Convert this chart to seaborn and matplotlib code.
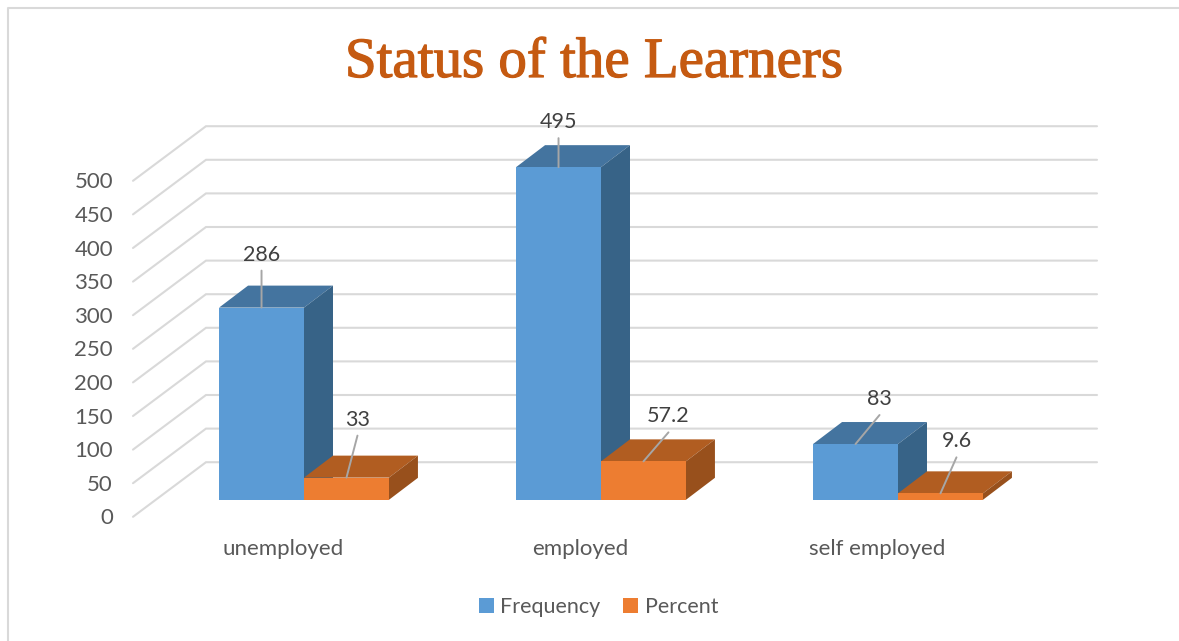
import matplotlib
matplotlib.use('Agg')
import matplotlib.pyplot as plt
import matplotlib.patheffects as pe
from matplotlib.lines import Line2D
from matplotlib.patches import Polygon
from matplotlib.transforms import ScaledTranslation
import pandas as pd
import seaborn as sns

# data
categories = ['unemployed', 'employed', 'self employed']
frequency = [286, 495, 83]
percent = [33, 57.2, 9.6]
y_ticks = list(range(0, 501, 50))

# label offsets from the top of each bar, in pixels (text, leader ends 16 below)
freq_label_pos = [(0, 53), (0, 45), (24, 45)]
percent_label_pos = [(11, 58), (25, 45), (16, 52)]

W, H = 1179, 641
AX_LEFT, AX_BOTTOM_PX = 155.5, 499.8
PX_X = 297.0      # pixels per category
PX_Y = 0.672      # pixels per unit
DEPTH = (29, 22)  # depth of a bar on screen

sns.set_theme(style='white')
plt.rcParams['font.family'] = ['Lato', 'DejaVu Sans']

df = pd.DataFrame({
    'status': categories * 2,
    'value': frequency + percent,
    'series': ['Frequency'] * 3 + ['Percent'] * 3,
})

fig = plt.figure(figsize=(W / 100, H / 100), dpi=100, facecolor='white')
ax = fig.add_axes([AX_LEFT / W, (H - AX_BOTTOM_PX) / H, 3 * PX_X / W, 500 * PX_Y / H])
ax.patch.set_alpha(0)

sns.barplot(data=df, x='status', y='value', hue='series', order=categories,
            palette=['#5B9BD5', '#ED7D31'], saturation=1, width=0.572, gap=0,
            dodge=True, ax=ax, linewidth=0)
ax.set_ylim(0, 500)
ax.set_xlim(-0.5, 2.5)
ax.set_xlabel('')
ax.set_ylabel('')
ax.set_yticks(y_ticks)
sns.despine(ax=ax, left=True, bottom=True)
ax.tick_params(length=0, pad=0, labelsize=16, labelcolor='#595959')


def px_to_data(dx, dy):
    return dx / PX_X, dy / PX_Y


# walls: side wall goes up and to the right, back wall runs across
front_dx, front_dy = px_to_data(-22.5, -17.0)
back_dx, back_dy = px_to_data(50.5, 37.6)
for v in y_ticks:
    ax.add_line(Line2D([-0.5 + front_dx, -0.5 + back_dx, 2.5 + back_dx],
                       [v + front_dy, v + back_dy, v + back_dy],
                       color='#D9D9D9', lw=1.5, clip_on=False, zorder=0.5,
                       solid_joinstyle='miter'))

# faked 3d sides on each bar
d_x, d_y = px_to_data(*DEPTH)
shades = [('#44749F', '#376387'), ('#B15D21', '#98501C')]
for i, container in enumerate(ax.containers):
    top_col, side_col = shades[i]
    for bar in container:
        x0, x1 = bar.get_x(), bar.get_x() + bar.get_width()
        h = bar.get_height()
        bar.set_zorder(3 + i * 2)
        ax.add_patch(Polygon([(x0, h), (x1, h), (x1 + d_x, h + d_y), (x0 + d_x, h + d_y)],
                             facecolor=top_col, edgecolor='none', zorder=2 + i * 2, clip_on=False))
        ax.add_patch(Polygon([(x1, 0), (x1 + d_x, d_y), (x1 + d_x, h + d_y), (x1, h)],
                             facecolor=side_col, edgecolor='none', zorder=2 + i * 2, clip_on=False))

# value labels with leader lines
for container, vals, positions in zip(ax.containers, [frequency, percent],
                                      [freq_label_pos, percent_label_pos]):
    for bar, val, (dx, dy) in zip(container, vals, positions):
        cx = bar.get_x() + bar.get_width() / 2
        h = bar.get_height()
        ax.annotate('', xy=(cx, h), xytext=(dx, dy - 16), textcoords='offset pixels',
                    arrowprops=dict(arrowstyle='-', color='#A6A6A6', lw=1.4,
                                    shrinkA=0, shrinkB=0), zorder=8, annotation_clip=False)
        ax.annotate(str(val), xy=(cx, h), xytext=(dx, dy), textcoords='offset pixels',
                    ha='center', va='center', fontsize=15.5, color='#404040',
                    zorder=9, annotation_clip=False)

fig.canvas.draw()
# tick labels sit on the front edge of the floor, not at the bars
shift_y = ScaledTranslation(-42.5 / 100, -16.5 / 100, fig.dpi_scale_trans)
for lab in ax.get_yticklabels():
    lab.set_transform(lab.get_transform() + shift_y)
shift_x = ScaledTranslation(-21 / 100, -39 / 100, fig.dpi_scale_trans)
for lab in ax.get_xticklabels():
    lab.set_transform(lab.get_transform() + shift_x)

sns.move_legend(ax, 'center', bbox_to_anchor=(598.5 / W, 1 - 607 / H),
                bbox_transform=fig.transFigure, ncol=2, title=None, frameon=False,
                fontsize=15.5, handlelength=0.7, handleheight=0.7, handletextpad=0.3,
                columnspacing=1.05, labelcolor='#595959')

title = fig.text(594 / W, 1 - 77 / H, 'Status of the Learners', ha='center', va='baseline',
                 fontsize=41, color='#C55A11', family=['Liberation Serif', 'DejaVu Serif'])
title.set_path_effects([pe.withStroke(linewidth=0.9, foreground='#C55A11')])

# frame of the chart area, only left and top are in the crop
fig.add_artist(Line2D([8 / W, 8 / W, 1], [0, 1 - 8 / H, 1 - 8 / H],
                      color='#D9D9D9', lw=1.5, transform=fig.transFigure))

fig.savefig('out.png', dpi=100)
